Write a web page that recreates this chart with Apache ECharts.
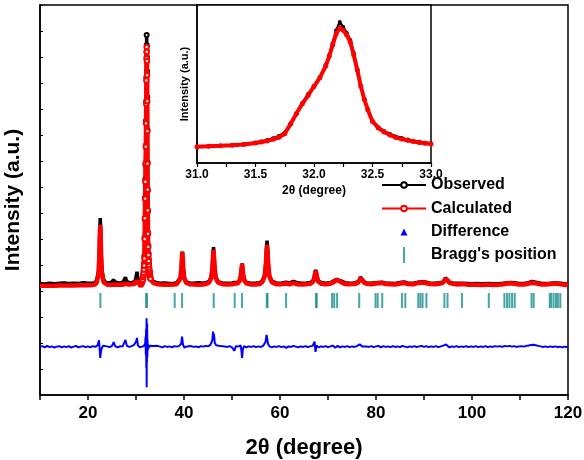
<!DOCTYPE html>
<html><head><meta charset="utf-8">
<script src="https://cdn.jsdelivr.net/npm/echarts@6/dist/echarts.min.js"></script>
<style>html,body{margin:0;padding:0;background:#fff}#c{width:584px;height:460px}</style>
</head><body><div id="c"></div>
<script>
// ---- data ----
const twoTheta = [
  10, 11, 12, 13, 14, 15, 16, 17, 18, 19, 20, 21, 21.5,
  21.85, 22.2, 22.37, 22.45, 22.55, 22.65, 22.73, 22.9, 23.25, 23.55,
  24, 24.8, 25.1, 25.35, 25.6, 25.9, 26.6, 27.3, 27.55, 27.8, 28.05, 28.5, 29.1, 29.7, 29.95, 30.2, 30.45, 30.7,
  31.00, 31.10, 31.20, 31.30, 31.40, 31.50,
  31.55, 31.60, 31.65, 31.70, 31.75, 31.80, 31.85, 31.90, 31.95, 32.00, 32.05, 32.10,
  32.13, 32.16, 32.19, 32.22, 32.25, 32.28, 32.31, 32.34, 32.37, 32.40, 32.43, 32.46,
  32.50, 32.55, 32.60, 32.65, 32.70, 32.75, 32.80, 32.85, 32.90, 32.95, 33.00,
  33.5, 34.2, 35, 36, 37, 38, 38.5,
  38.85, 39.25, 39.45, 39.55, 39.65, 39.75, 39.85, 40.05, 40.45,
  41.2, 42, 43, 44, 44.7,
  45.25, 45.7, 45.93, 46.04, 46.15, 46.26, 46.37, 46.6, 47.05,
  48, 49, 50, 50.55, 50.9,
  51.2, 51.65, 51.88, 51.99, 52.1, 52.21, 52.32, 52.55, 53.0,
  54, 55, 55.8,
  56.3, 56.8, 57.05, 57.175, 57.3, 57.425, 57.55, 57.8, 58.3,
  59.2, 60.2, 61.3, 62.0, 62.8, 63.6, 64.5, 65.5,
  66.35, 66.9, 67.17, 67.31, 67.45, 67.59, 67.73, 68.0, 68.55,
  69.5, 70.5, 71.2, 71.8, 72.2, 72.8, 73.5, 74.5, 75.2,
  75.7, 76.3, 76.6, 76.75, 76.9, 77.05, 77.2, 77.5, 78.1,
  79, 80.0, 80.5, 81.2, 82, 83, 84, 85.3, 85.9, 86.6, 87.8, 88.8, 89.5, 90.3, 91.2, 92.2, 93.2,
  93.9, 94.25, 94.43, 94.6, 94.77, 94.95, 95.3, 96.0,
  97.0, 97.9, 99, 100, 101, 102, 103.5, 104.5, 105.5, 106.5, 107.3, 108, 108.8, 109.8, 110.8, 111.8, 112.5, 112.9, 113.5, 114.5, 115.5, 116.3, 117, 117.8, 118.5, 119.2, 120
];
const observed = [
  290, 270, 300, 280, 295, 310, 285, 300, 290, 315, 295, 310, 320,
  440, 790, 1540, 2300, 2808, 2330, 1580, 820, 450, 360,
  310, 330, 350, 430, 350, 320, 300, 340, 380, 530, 370, 330, 320, 360, 470, 740, 420, 330,
  270, 300, 330, 380, 470, 560,
  650, 760, 900, 1080, 1350, 2050, 2750, 3600, 4300, 4850, 5600, 6550,
  7300, 8200, 9200, 9850, 9450, 9000, 8450, 7450, 6200, 4950, 3850, 3050,
  2250, 1750, 1450, 1230, 1040, 920, 800, 700, 640, 560, 510,
  380, 330, 300, 310, 290, 300, 320,
  350, 520, 880, 1270, 1510, 1230, 900, 530, 350,
  310, 300, 320, 300, 330,
  370, 580, 1010, 1420, 1692, 1400, 990, 560, 360,
  310, 300, 310, 330, 320,
  340, 440, 660, 890, 1060, 900, 680, 440, 330,
  300, 310, 320,
  390, 610, 1110, 1600, 1934, 1580, 1080, 600, 380,
  310, 300, 340, 310, 370, 320, 300, 310,
  330, 400, 560, 720, 808, 700, 540, 390, 330,
  300, 320, 390, 450, 460, 380, 320, 300, 310,
  320, 360, 450, 540, 590, 530, 430, 350, 310,
  300, 320, 330, 340, 310, 300, 290, 340, 350, 300, 300, 340, 360, 350, 300, 300, 320,
  340, 420, 510, 550, 500, 420, 340, 310,
  300, 300, 290, 280, 290, 280, 290, 280, 280, 300, 320, 330, 320, 290, 290, 320, 370, 380, 330, 290, 290, 300, 310, 310, 300, 280, 270
];
const calculated = [
  200, 200, 205, 205, 210, 210, 215, 215, 220, 220, 225, 235, 250,
  340, 668, 1369, 2070, 2538, 2070, 1369, 668, 340, 270,
  240, 235, 240, 250, 240, 240, 240, 245, 255, 280, 255, 250, 255, 270, 330, 400, 320, 270,
  254, 285, 320, 370, 430, 540,
  610, 700, 820, 980, 1250, 2000, 2800, 3550, 4200, 4900, 5550, 6450,
  7200, 8100, 8950, 9380, 9200, 8850, 8300, 7300, 6150, 4900, 3900, 3100,
  2200, 1700, 1380, 1150, 960, 840, 740, 650, 580, 520, 470,
  330, 270, 250, 245, 240, 250, 265,
  316, 492, 870, 1248, 1500, 1248, 870, 492, 316,
  260, 250, 245, 250, 280,
  330, 515, 913, 1312, 1577, 1312, 913, 515, 330,
  260, 250, 255, 280, 275,
  297, 408, 644, 880, 1038, 880, 644, 408, 297,
  250, 250, 265,
  341, 554, 1010, 1465, 1769, 1465, 1010, 554, 341,
  260, 255, 290, 260, 300, 260, 250, 255,
  281, 354, 510, 666, 770, 666, 510, 354, 281,
  255, 280, 350, 430, 440, 340, 270, 260, 270,
  278, 320, 410, 500, 560, 500, 410, 320, 278,
  260, 290, 300, 310, 270, 255, 250, 300, 310, 270, 260, 310, 330, 310, 270, 260, 280,
  312, 390, 468, 520, 468, 390, 312, 276,
  250, 270, 245, 240, 240, 235, 250, 235, 240, 260, 290, 300, 280, 250, 250, 280, 320, 330, 290, 250, 250, 270, 280, 275, 260, 240, 230
];
const diffTheta = [
  10, 10.5, 11, 11.5, 12, 12.5, 13, 13.5, 14, 14.5,
  15, 15.5, 16, 16.5, 17, 17.5, 18, 18.5, 19, 19.5,
  20, 20.5, 21, 21.5, 22, 22.3, 22.45, 22.55, 22.65, 22.8,
  23.1, 23.5, 24, 24.5, 25, 25.35, 25.7, 26.2, 26.7, 27.2,
  27.5, 27.8, 28.1, 28.6, 29.1, 29.6, 30.0, 30.2, 30.4, 30.8,
  31.2, 31.6, 31.9, 32.0, 32.05, 32.1, 32.15, 32.2, 32.22, 32.25,
  32.28, 32.32, 32.36, 32.4, 32.45, 32.5, 32.6, 32.8, 33.1, 33.6,
  34, 34.5, 35, 35.5, 36, 36.5, 37, 37.5, 38, 38.5,
  39, 39.4, 39.6, 39.8, 40.1, 40.6, 41, 41.5, 42, 42.5,
  43, 43.5, 44, 44.5, 45, 45.5, 45.9, 46.05, 46.15, 46.25,
  46.4, 46.7, 47.1, 47.6, 48, 48.5, 49, 49.5, 50, 50.5,
  50.8, 51.3, 51.8, 52.0, 52.1, 52.25, 52.5, 53, 53.5, 54,
  54.5, 55, 55.5, 56, 56.5, 57.0, 57.2, 57.35, 57.5, 57.8,
  58.3, 58.8, 59.3, 59.8, 60.3, 60.8, 61.3, 61.8, 62.3, 62.8,
  63.3, 63.8, 64.3, 64.8, 65.3, 65.8, 66.3, 66.8, 67.2, 67.4,
  67.6, 68.0, 68.5, 69, 69.5, 70, 70.5, 71, 71.5, 72,
  72.5, 73, 73.5, 74, 74.5, 75, 75.5, 76, 76.6, 76.85,
  77.1, 77.5, 78, 78.5, 79, 79.5, 80, 80.5, 81, 81.5,
  82, 82.5, 83, 83.5, 84, 84.5, 85, 85.5, 86, 86.5,
  87, 87.5, 88, 88.5, 89, 89.5, 90, 90.5, 91, 91.5,
  92, 92.5, 93, 93.5, 94, 94.4, 94.6, 94.9, 95.3, 95.8,
  96.3, 96.8, 97.3, 97.8, 98.3, 98.8, 99.3, 99.8, 100.3, 100.8,
  101.3, 101.8, 102.3, 102.8, 103.3, 103.8, 104.3, 104.8, 105.3, 105.8,
  106.3, 106.8, 107.3, 107.8, 108.3, 108.8, 109.3, 109.8, 110.3, 110.8,
  111.3, 111.8, 112.3, 112.8, 113.3, 113.8, 114.3, 114.8, 115.3, 115.8,
  116.3, 116.8, 117.3, 117.8, 118.3, 118.8, 119.3, 120
];
const difference = [
  0, 30, -20, 40, -10, 20, -30, 10, 30, -20,
  20, -10, 30, -30, 10, 40, -20, 10, 30, -10,
  20, -20, 30, 0, 60, 250, -150, -420, -250, -80,
  40, -30, 20, -10, 40, 180, 20, -20, 30, 10,
  60, 270, 40, 0, 30, 80, 200, 346, 60, -20,
  40, 30, 120, 400, -300, 700, -800, 1100, -1550, 600,
  -600, 900, -400, 300, -150, 100, -60, 40, -20, 30,
  -10, 40, 10, -20, 30, 0, 20, -20, 30, 10,
  40, 120, 396, 80, -30, 20, -10, 30, 0, 20,
  -20, 30, 10, 40, 20, 80, 250, 589, 350, 500,
  150, 60, 0, 30, -20, 20, 0, 30, -20, -150,
  30, 10, 60, -200, -423, -100, 30, -20, 20, 0,
  30, -10, 20, 0, 40, 200, 462, 300, 120, 20,
  -20, 20, 0, 30, -10, 20, -40, 20, 0, 40,
  10, -20, 20, 0, 30, -10, 20, 40, 204, -192,
  60, -20, 20, 0, 30, -10, 20, 50, -30, 40,
  -20, 20, 0, 30, -10, 20, 0, 30, 100, 154,
  20, -20, 20, 0, 30, -10, 20, 40, -20, 30,
  0, 20, -10, 30, 0, 20, -10, 40, 10, -20,
  20, 0, 30, -10, 20, 40, 0, 30, -10, 20,
  0, 30, -10, 20, 50, 120, 90, 30, -20, 20,
  0, 30, -10, 20, 0, 30, -10, 20, 0, 30,
  -10, 20, 0, 30, -10, 20, 0, 30, 10, 30,
  0, 40, 20, 40, 10, 30, 0, 20, 30, 10,
  40, 50, 70, 80, 60, 40, 20, 0, 20, -10,
  20, 0, 20, -10, 10, -20, 10, 0
];
const braggPositions = [
  22.58, 32.1, 32.3, 38.06, 39.6, 46.19, 50.56, 52.1, 57.25, 57.4, 61.27, 67.5, 67.65,
  70.85, 71.3, 71.9, 76.5, 79.9, 80.35, 81.3, 85.4, 86.1, 88.8, 89.25, 89.7, 90.5,
  94.25, 94.9, 97.9, 103.5, 106.75, 107.3, 107.8, 108.35, 108.9, 112.4, 112.85,
  116.2, 116.5, 117.0, 117.5, 117.9, 118.4
];
const DIFF_OFFSET = -2150;   // vertical offset of the difference curve
const BRAGG_LEVEL = -365;    // level of the Bragg tick marks
const insetRange = [31, 33];
const mainTicks = [10, 120, 10];   // min, max, interval
const insetTicks = [31, 33, 0.25];

// ---- chart ----
const FONT = 'Liberation Sans, Arial, Helvetica, sans-serif';
const obsData = twoTheta.map((x, i) => [x, observed[i]]);
const calcData = twoTheta.map((x, i) => [x, calculated[i]]);
const diffData = diffTheta.map((x, i) => [x, difference[i] + DIFF_OFFSET]);
const braggData = braggPositions.map(x => [x, BRAGG_LEVEL]);
const inInset = p => p[0] >= insetRange[0] && p[0] <= insetRange[1];
// open circles are only distinguishable where the points pile up (the strong peak)
const denseSize = s => (v => (inInset(v) ? s : 0));

const bold = (size) => ({ fontFamily: FONT, fontWeight: 'bold', fontSize: size, color: '#000' });

const chart = echarts.init(document.getElementById('c'), null, { renderer: 'canvas' });
chart.setOption({
  animation: false,
  backgroundColor: '#fff',
  grid: [
    { left: 40, right: 16, top: 5, bottom: 65, show: true, borderColor: '#000', borderWidth: 1.5, containLabel: false, outerBoundsMode: 'none' },
    { left: 197, width: 234, top: 5, height: 158, show: true, borderColor: '#000', borderWidth: 1.5, backgroundColor: '#fff', containLabel: false, outerBoundsMode: 'none', z: 5 }
  ],
  xAxis: [
    {
      gridIndex: 0, type: 'value', min: mainTicks[0], max: mainTicks[1], interval: mainTicks[2],
      name: '2\u03b8 (degree)', nameLocation: 'middle', nameGap: 42, nameTextStyle: bold(22),
      axisLine: { onZero: false, lineStyle: { color: '#000', width: 1.5 } },
      axisTick: { inside: false, length: 5, lineStyle: { color: '#000', width: 1.5 } },
      axisLabel: { ...bold(17), margin: 10, formatter: v => (v % 20 === 0 ? String(v) : '') },
      splitLine: { show: false }
    },
    {
      gridIndex: 1, type: 'value', min: insetTicks[0], max: insetTicks[1], interval: insetTicks[2],
      name: '2\u03b8 (degree)', nameLocation: 'middle', nameGap: 22, nameTextStyle: bold(12),
      axisLine: { onZero: false, lineStyle: { color: '#000', width: 1.5 } },
      axisTick: { inside: false, length: 4, lineStyle: { color: '#000', width: 1.2 } },
      axisLabel: { ...bold(12), margin: 6, formatter: v => (Math.abs(v * 2 - Math.round(v * 2)) < 1e-6 ? v.toFixed(1) : '') },
      splitLine: { show: false }, z: 6
    }
  ],
  yAxis: [
    {
      gridIndex: 0, type: 'value', min: -4000, max: 11000, interval: 1000,
      name: 'Intensity (a.u.)', nameLocation: 'middle', nameGap: 16, nameTextStyle: bold(21),
      axisLine: { show: true, onZero: false, lineStyle: { color: '#000', width: 1.5 } },
      axisTick: { show: true, inside: true, length: 3, lineStyle: { color: '#000', width: 1 } },
      axisLabel: { show: false },
      splitLine: { show: false }
    },
    {
      gridIndex: 1, type: 'value', min: -1000, max: 11150,
      name: 'Intensity (a.u.)', nameLocation: 'middle', nameGap: 7, nameTextStyle: bold(11),
      axisLine: { show: true, onZero: false, lineStyle: { color: '#000', width: 1.5 } },
      axisTick: { show: false },
      axisLabel: { show: false },
      splitLine: { show: false }, z: 6
    }
  ],
  legend: [
    {
      orient: 'vertical', left: 381, top: 177, padding: 0, itemWidth: 44, itemHeight: 7, itemGap: 7.5,
      selectedMode: false, textStyle: bold(16), lineStyle: { width: 2 },
      data: ['Observed', 'Calculated', { name: 'Difference', icon: 'path://M3,0L6,6L0,6Z' }]
    },
    {
      orient: 'vertical', left: 403, top: 247, padding: 0, itemWidth: 44, itemHeight: 16,
      selectedMode: false, textStyle: bold(16),
      data: [{ name: "Bragg's position", icon: 'path://M0,0L2,0L2,16L0,16Z' }]
    }
  ],
  series: [
    {
      name: 'Observed', type: 'line', xAxisIndex: 0, yAxisIndex: 0, data: obsData,
      color: '#000', symbol: 'emptyCircle', symbolSize: denseSize(4), showSymbol: true,
      itemStyle: { color: '#000', borderWidth: 1 }, lineStyle: { color: '#000', width: 3.5 }, z: 2
    },
    {
      name: 'Calculated', type: 'line', xAxisIndex: 0, yAxisIndex: 0, data: calcData,
      color: '#ff0000', symbol: 'emptyCircle', symbolSize: denseSize(4.5), showSymbol: true,
      itemStyle: { color: '#ff0000', borderWidth: 1.2 }, lineStyle: { color: '#ff0000', width: 4.5 }, z: 3
    },
    {
      name: 'Difference', type: 'line', xAxisIndex: 0, yAxisIndex: 0, data: diffData,
      color: '#0000ff', symbol: 'triangle', showSymbol: false,
      lineStyle: { color: '#0000ff', width: 2 }, z: 2
    },
    {
      name: "Bragg's position", type: 'scatter', xAxisIndex: 0, yAxisIndex: 0, data: braggData,
      color: '#1a8f8f', symbol: 'rect', symbolSize: [2, 15],
      itemStyle: { color: '#1a8f8f' }, z: 2
    },
    {
      name: 'Observed', type: 'line', xAxisIndex: 1, yAxisIndex: 1, data: obsData.filter(inInset),
      color: '#000', symbol: 'circle', symbolSize: 4, showSymbol: true,
      itemStyle: { color: '#000' }, lineStyle: { color: '#000', width: 2.5 }, z: 7
    },
    {
      name: 'Calculated', type: 'line', xAxisIndex: 1, yAxisIndex: 1, data: calcData.filter(inInset),
      color: '#ff0000', symbol: 'circle', symbolSize: 5, showSymbol: true,
      itemStyle: { color: '#ff0000' }, lineStyle: { color: '#ff0000', width: 4 }, z: 8
    }
  ]
});
</script>
</body></html>
